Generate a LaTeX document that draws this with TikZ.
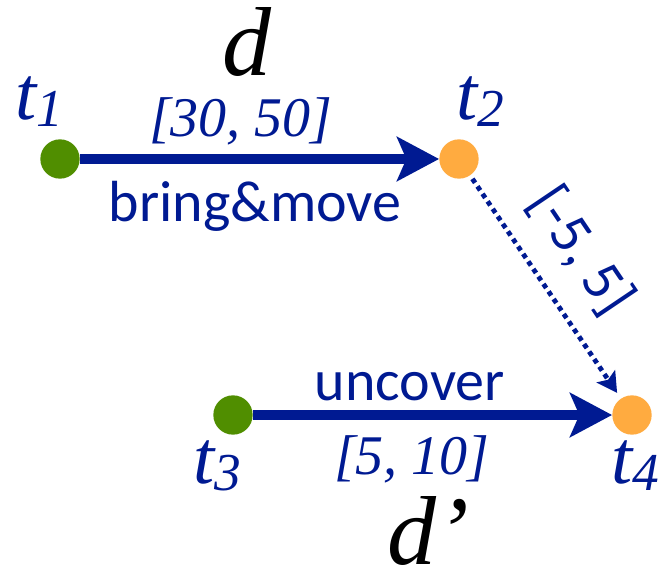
\documentclass[tikz,border=0pt]{standalone}
\usepackage{fontspec}
\setmainfont{Liberation Serif}
\newfontfamily\calib{Carlito}
\usetikzlibrary{arrows.meta}
\definecolor{dblue}{RGB}{0,26,146}
\definecolor{dgreen}{RGB}{80,142,0}
\definecolor{dorange}{RGB}{255,171,64}
\begin{document}
\begin{tikzpicture}[x=0.75pt,y=-0.75pt,
 dotnode/.style={circle,inner sep=0pt,minimum size=29.5pt,draw=none},
 tlab/.style={inner sep=0pt,anchor=base,text=dblue,font=\fontsize{57}{60}\selectfont\itshape},
 intlab/.style={inner sep=0pt,anchor=base,text=dblue,font=\fontsize{42}{46}\selectfont\itshape},
 actlab/.style={inner sep=0pt,anchor=base,text=dblue,font=\calib\fontsize{43.5}{46}\selectfont},
 dlab/.style={inner sep=0pt,anchor=base,text=black,font=\fontsize{73.5}{80}\selectfont\itshape},
 bigarrow/.style={draw=dblue,line width=7.5pt,-{Stealth[length=31.5pt,width=33pt,inset=7pt]}},
 dotarrow/.style={draw=dblue,line width=3.6pt,dash pattern=on 3.6pt off 3.2pt,-{Stealth[length=15pt,width=16.5pt,inset=3pt]},shorten <=3pt,shorten >=5pt}
]
\useasboundingbox (0,0) rectangle (667,570);
% dots
\node[dotnode,fill=dgreen] (t1) at (60,159) {};
\node[dotnode,fill=dorange] (t2) at (459,159) {};
\node[dotnode,fill=dgreen] (t3) at (233,415) {};
\node[dotnode,fill=dorange] (t4) at (632,415) {};
% connectors
\draw[bigarrow] (t1) -- (t2);
\draw[bigarrow] (t3) -- (t4);
\draw[dotarrow] (t2) -- (t4);
% labels
\node[tlab] (l1) at (39,120) {t\raisebox{-5.25pt}{\fontsize{40}{40}\selectfont 1}};
\node[tlab] (l2) at (480,120) {t\raisebox{-5.25pt}{\fontsize{40}{40}\selectfont 2}};
\node[tlab] (l3) at (217,483) {t\raisebox{-5.25pt}{\fontsize{40}{40}\selectfont 3}};
\node[tlab] (l4) at (635,483) {t\raisebox{-5.25pt}{\fontsize{40}{40}\selectfont 4}};
\node[dlab] (dd) at (247,76) {d};
\node[dlab] (dp) at (428,564) {d’};
\node[intlab] (i1) at (241,137) {[30, 50]};
\node[intlab] (i2) at (412,474) {[5, 10]};
\node[actlab] (a1) at (255,222) {bring\&move};
\node[actlab] (a2) at (410,400) {uncover};
\node[actlab,anchor=center,rotate=-56] (i3) at (581,251) {[-5, 5]};
\end{tikzpicture}
\end{document}
